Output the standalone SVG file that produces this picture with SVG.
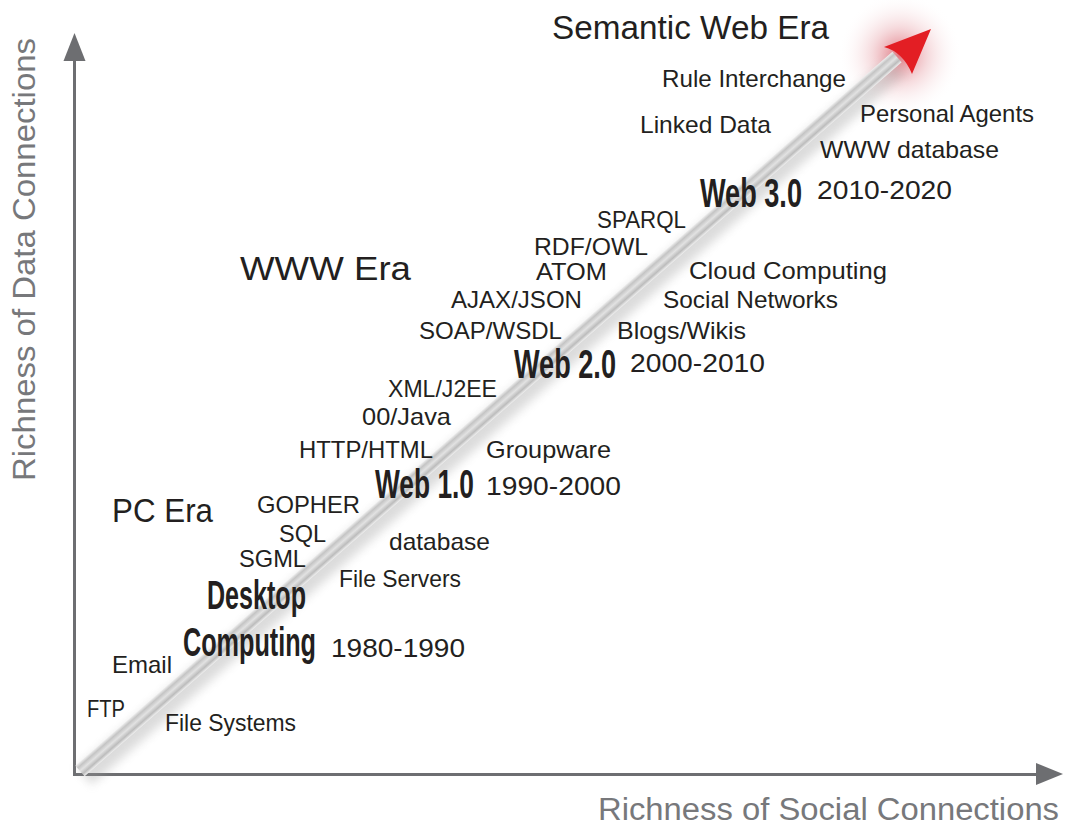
<svg xmlns="http://www.w3.org/2000/svg" width="1066" height="825" viewBox="0 0 1066 825">
<style>
  text { font-family: "Liberation Sans", Arial, sans-serif; fill: #231f20; }
  .lbl { font-size: 24px; }
  .yr { font-size: 25px; }
  .era { font-size: 33px; }
  .web { font-size: 41px; font-weight: bold; }
  .axl { font-size: 31px; fill: #77787b; }
  .axis { stroke: #6d6e71; stroke-width: 3; fill: none; }
  .ahead { fill: #6d6e71; }
</style>
<defs>
  <linearGradient id="band" x1="0" y1="0" x2="0" y2="1">
    <stop offset="0" stop-color="#efefef"/>
    <stop offset="0.22" stop-color="#c4c4c4"/>
    <stop offset="0.5" stop-color="#e2e2e2"/>
    <stop offset="0.78" stop-color="#bcbcbc"/>
    <stop offset="1" stop-color="#f0f0f0"/>
  </linearGradient>
  <radialGradient id="glow" cx="0.5" cy="0.5" r="0.5">
    <stop offset="0" stop-color="#d9535f" stop-opacity="0.8"/>
    <stop offset="0.45" stop-color="#e8a3aa" stop-opacity="0.4"/>
    <stop offset="1" stop-color="#ffffff" stop-opacity="0"/>
  </radialGradient>
  <filter id="blur" x="-20%" y="-50%" width="140%" height="200%">
    <feGaussianBlur stdDeviation="5"/>
  </filter>
</defs>
<rect width="1066" height="825" fill="#ffffff"/>

<g id="glow-bg">
  <circle cx="900" cy="55" r="62" fill="url(#glow)"/>
</g>

<g id="axes">
  <line class="axis" x1="74.5" y1="776" x2="74.5" y2="58"/>
  <polygon class="ahead" points="74.5,33 63.5,61 85.5,61"/>
  <line class="axis" x1="73" y1="774.5" x2="1040" y2="774.5"/>
  <polygon class="ahead" points="1063,774 1036,763 1036,785"/>
</g>

<g id="trend-arrow">
  <g transform="translate(80,771) rotate(-41.15)">
    <rect x="0" y="-4" width="1080" height="22" fill="#9a9a9a" opacity="0.35" filter="url(#blur)"/>
    <rect x="0" y="-7" width="1085" height="14" fill="url(#band)"/>
  </g>
  <path d="M931,29 L884,47 Q903,52 912,74 Z" fill="#e31e24"/>
</g>

<g id="axis-labels">
  <text class="axl" x="598" y="820" textLength="461" lengthAdjust="spacingAndGlyphs">Richness of Social Connections</text>
  <text class="axl" transform="translate(35,481) rotate(-90)" x="0" y="0" textLength="443" lengthAdjust="spacingAndGlyphs">Richness of Data Connections</text>
</g>

<g id="semantic-web-era">
  <text class="era" x="552" y="39" textLength="277" lengthAdjust="spacingAndGlyphs">Semantic Web Era</text>
  <text class="lbl" x="662" y="87" textLength="184" lengthAdjust="spacingAndGlyphs">Rule Interchange</text>
  <text class="lbl" x="640" y="133" textLength="131" lengthAdjust="spacingAndGlyphs">Linked Data</text>
  <text class="lbl" x="860" y="122" textLength="174" lengthAdjust="spacingAndGlyphs">Personal Agents</text>
  <text class="lbl" x="820" y="158" textLength="179" lengthAdjust="spacingAndGlyphs">WWW database</text>
  <text class="web" transform="translate(700,207) scale(0.66,1)" textLength="154.5" lengthAdjust="spacingAndGlyphs">Web 3.0</text>
  <text class="yr" x="817" y="199" textLength="135" lengthAdjust="spacingAndGlyphs">2010-2020</text>
</g>

<g id="web2">
  <text class="lbl" x="597" y="228" textLength="89" lengthAdjust="spacingAndGlyphs">SPARQL</text>
  <text class="lbl" x="534" y="255" textLength="114" lengthAdjust="spacingAndGlyphs">RDF/OWL</text>
  <text class="lbl" x="536" y="280" textLength="71" lengthAdjust="spacingAndGlyphs">ATOM</text>
  <text class="lbl" x="689" y="279" textLength="198" lengthAdjust="spacingAndGlyphs">Cloud Computing</text>
  <text class="lbl" x="451" y="308" textLength="131" lengthAdjust="spacingAndGlyphs">AJAX/JSON</text>
  <text class="lbl" x="663" y="308" textLength="175" lengthAdjust="spacingAndGlyphs">Social Networks</text>
  <text class="lbl" x="419" y="339" textLength="143" lengthAdjust="spacingAndGlyphs">SOAP/WSDL</text>
  <text class="lbl" x="617" y="339" textLength="129" lengthAdjust="spacingAndGlyphs">Blogs/Wikis</text>
  <text class="web" transform="translate(514,378) scale(0.66,1)" textLength="154.5" lengthAdjust="spacingAndGlyphs">Web 2.0</text>
  <text class="yr" x="630" y="372" textLength="135" lengthAdjust="spacingAndGlyphs">2000-2010</text>
</g>

<g id="www-era">
  <text class="era" x="240" y="280" textLength="171" lengthAdjust="spacingAndGlyphs">WWW Era</text>
  <text class="lbl" x="388" y="397" textLength="109" lengthAdjust="spacingAndGlyphs">XML/J2EE</text>
  <text class="lbl" x="362" y="425" textLength="89" lengthAdjust="spacingAndGlyphs">00/Java</text>
  <text class="lbl" x="299" y="458" textLength="134" lengthAdjust="spacingAndGlyphs">HTTP/HTML</text>
  <text class="lbl" x="486" y="458" textLength="125" lengthAdjust="spacingAndGlyphs">Groupware</text>
  <text class="web" transform="translate(375,498) scale(0.64,1)" textLength="154.7" lengthAdjust="spacingAndGlyphs">Web 1.0</text>
  <text class="yr" x="486" y="495" textLength="135" lengthAdjust="spacingAndGlyphs">1990-2000</text>
</g>

<g id="pc-era">
  <text class="era" x="112" y="522" textLength="101" lengthAdjust="spacingAndGlyphs">PC Era</text>
  <text class="lbl" x="257" y="513" textLength="103" lengthAdjust="spacingAndGlyphs">GOPHER</text>
  <text class="lbl" x="279" y="542" textLength="47" lengthAdjust="spacingAndGlyphs">SQL</text>
  <text class="lbl" x="389" y="550" textLength="101" lengthAdjust="spacingAndGlyphs">database</text>
  <text class="lbl" x="239" y="567" textLength="67" lengthAdjust="spacingAndGlyphs">SGML</text>
  <text class="lbl" x="339" y="587" textLength="122" lengthAdjust="spacingAndGlyphs">File Servers</text>
  <text class="web" transform="translate(207,609) scale(0.61,1)" textLength="162.3" lengthAdjust="spacingAndGlyphs">Desktop</text>
  <text class="web" transform="translate(183,656) scale(0.70,1)" textLength="190" lengthAdjust="spacingAndGlyphs">Computing</text>
  <text class="yr" x="331" y="657" textLength="134" lengthAdjust="spacingAndGlyphs">1980-1990</text>
  <text class="lbl" x="112" y="673" textLength="60" lengthAdjust="spacingAndGlyphs">Email</text>
  <text class="lbl" x="87" y="717" textLength="38" lengthAdjust="spacingAndGlyphs">FTP</text>
  <text class="lbl" x="165" y="731" textLength="131" lengthAdjust="spacingAndGlyphs">File Systems</text>
</g>
</svg>
